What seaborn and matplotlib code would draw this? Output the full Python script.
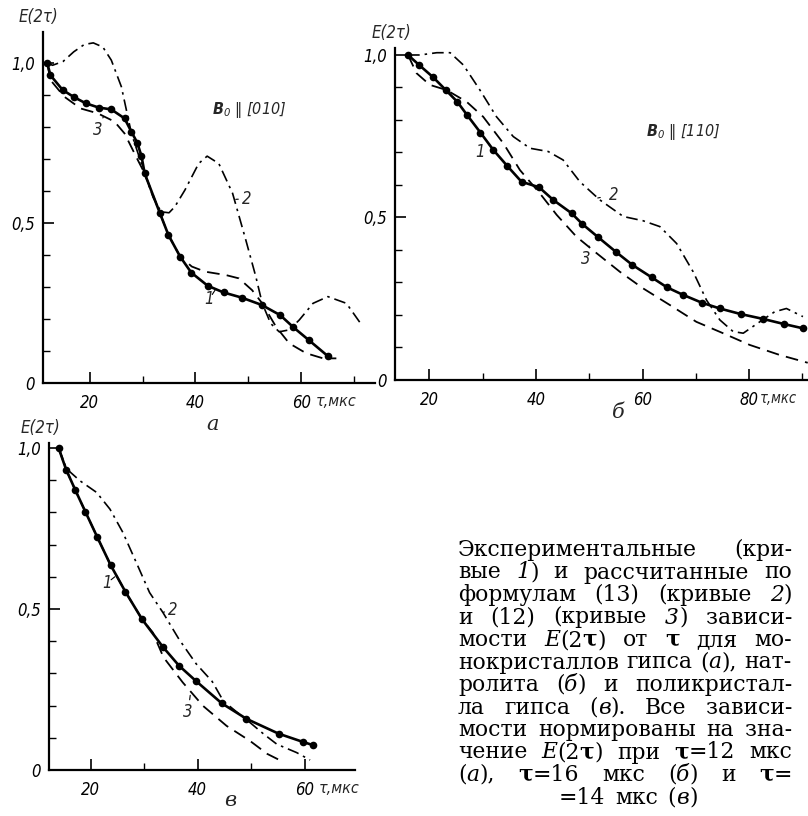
import re
import matplotlib
matplotlib.use("Agg")
import matplotlib.pyplot as plt
import seaborn as sns
from matplotlib.ticker import FixedLocator, FixedFormatter

# ---------------- data ----------------
# panel a: gypsum single crystal, B0 || [010]
a_t1 = [12, 12.6, 14.9, 17.1, 19.3, 21.7, 24.1, 26.6, 27.9, 29.0, 29.8, 30.4, 33.3,
        34.9, 37.1, 39.2, 42.3, 45.3, 48.7, 52.5, 56.0, 58.5, 61.4, 65.0]
a_e1 = [1.0, 0.962, 0.916, 0.893, 0.874, 0.861, 0.855, 0.827, 0.785, 0.751, 0.709,
        0.655, 0.530, 0.462, 0.395, 0.345, 0.304, 0.283, 0.267, 0.244, 0.212, 0.174,
        0.134, 0.084]
a_t2 = [12, 13.0, 15.0, 17.0, 19.0, 20.7, 22.5, 24.1, 26.0, 27.9, 30.4, 32.0, 33.5,
        35.0, 36.1, 38.0, 40.6, 42.2, 44.4, 47.0, 49.5, 51.4, 52.6, 54.2, 55.8, 57.7,
        59.6, 62.2, 65.0, 68.5, 71.4]
a_e2 = [1.0, 0.993, 1.005, 1.035, 1.058, 1.063, 1.05, 1.009, 0.926, 0.78, 0.655,
        0.58, 0.535, 0.532, 0.551, 0.603, 0.686, 0.709, 0.686, 0.593, 0.447, 0.332,
        0.249, 0.186, 0.16, 0.166, 0.197, 0.249, 0.27, 0.249, 0.181]
a_t3 = [12, 12.6, 15.2, 18.3, 21.5, 24.7, 26.6, 29.1, 30.4, 33.3, 34.9, 37.1, 39.3,
        41.8, 45.7, 48.2, 50.7, 52.6, 55.2, 57.7, 60.9, 64.1, 66.6]
a_e3 = [1.0, 0.947, 0.895, 0.858, 0.843, 0.817, 0.78, 0.697, 0.655, 0.53, 0.462,
        0.395, 0.364, 0.348, 0.3375, 0.327, 0.29, 0.249, 0.176, 0.124, 0.093, 0.077,
        0.077]

# panel б: natrolite, B0 || [110]
b_t1 = [16, 18.1, 20.75, 23.1, 25.25, 27.1, 29.6, 32.0, 34.6, 37.3, 40.6, 43.25, 46.7,
        48.7, 51.7, 55.1, 58.1, 61.7, 64.6, 67.6, 71.1, 74.5, 78.4, 82.6, 86.6, 90.1]
b_e1 = [1.0, 0.969, 0.931, 0.892, 0.856, 0.815, 0.761, 0.708, 0.659, 0.61, 0.593,
        0.554, 0.513, 0.48, 0.439, 0.393, 0.354, 0.316, 0.285, 0.262, 0.238, 0.22,
        0.203, 0.188, 0.172, 0.159]
b_t2 = [16, 18.25, 21.4, 23.9, 26.4, 29.5, 32.6, 35.75, 38.9, 42.3, 45.1, 48.25, 52.0,
        56.4, 60.1, 63.25, 66.4, 69.5, 72.0, 74.5, 77.0, 78.9, 82.0, 84.8, 87.0, 90.1]
b_e2 = [1.0, 1.0, 1.007, 1.007, 0.969, 0.892, 0.81, 0.749, 0.713, 0.703, 0.677, 0.61,
        0.554, 0.503, 0.49, 0.472, 0.42, 0.333, 0.246, 0.185, 0.149, 0.144, 0.179,
        0.21, 0.22, 0.195]
b_t3 = [16, 17.6, 20.1, 23.25, 27.0, 30.1, 33.9, 37.0, 40.75, 43.9, 47.6, 51.4, 55.75,
        60.1, 65.1, 70.1, 75.1, 80.1, 85.75, 91.0]
b_e3 = [1.0, 0.944, 0.908, 0.892, 0.856, 0.81, 0.728, 0.646, 0.574, 0.508, 0.441,
        0.39, 0.333, 0.282, 0.231, 0.179, 0.144, 0.108, 0.077, 0.053]

# panel в: gypsum polycrystal
c_t1 = [14.0, 15.4, 17.1, 19.0, 21.2, 23.7, 26.5, 29.6, 33.45, 36.5, 39.7, 44.5, 49.1,
        55.1, 59.7, 61.6]
c_e1 = [1.0, 0.933, 0.870, 0.802, 0.724, 0.637, 0.553, 0.468, 0.383, 0.324, 0.276,
        0.207, 0.159, 0.113, 0.087, 0.077]
c_t2 = [14.0, 15.5, 18.0, 21.1, 23.6, 26.0, 28.5, 31.0, 33.5, 36.5, 39.7, 42.7, 44.8,
        47.3, 49.8, 52.3, 54.8, 58.5, 61.0]
c_e2 = [1.0, 0.935, 0.898, 0.862, 0.81, 0.738, 0.645, 0.551, 0.489, 0.406, 0.33,
        0.275, 0.214, 0.18, 0.147, 0.112, 0.08, 0.054, 0.031]
c_t3 = [14.0, 15.4, 17.1, 19.0, 21.2, 23.7, 26.5, 29.6, 31.6, 33.6, 37.2, 41.0, 45.4,
        49.8, 53.0, 56.0]
c_e3 = [1.0, 0.933, 0.870, 0.802, 0.724, 0.637, 0.553, 0.468, 0.427, 0.35, 0.272,
        0.199, 0.137, 0.09, 0.05, 0.025]

y_ticks = [0, 0.5, 1.0]
y_ticklabels = ["0", "0,5", "1,0"]
ac_xticks = [20, 40, 60]
ac_xticklabels = ["20", "40", "60"]
b_xticks = [20, 40, 60, 80]
b_xticklabels = ["20", "40", "60", "80"]
y_label = "E(2τ)"
x_unit = "τ,мкс"
panel_letters = ["а", "б", "в"]
field_a = r"$\mathbf{B}_{0}$ ‖ [010]"
field_b = r"$\mathbf{B}_{0}$ ‖ [110]"

caption_lines = [
    "Экспериментальные (кри-",
    "вые *1*) и рассчитанные по",
    "формулам (13) (кривые *2*)",
    "и (12) (кривые *3*) зависи-",
    "мости *E*(2#τ#) от #τ# для мо-",
    "нокристаллов гипса (*а*), нат-",
    "ролита (*б*) и поликристал-",
    "ла гипса (*в*). Все зависи-",
    "мости нормированы на зна-",
    "чение *E*(2#τ#) при #τ#=12 мкс",
    "(*а*), #τ#=16 мкс (*б*) и #τ#=",
    "=14 мкс (*в*)",
]

# ---------------- style ----------------
sns.set_theme(style="white")
plt.rcParams["font.family"] = ["Liberation Sans Narrow", "DejaVu Sans"]
plt.rcParams["font.style"] = "italic"
plt.rcParams["font.stretch"] = "condensed"
plt.rcParams["mathtext.fontset"] = "custom"
plt.rcParams["mathtext.bf"] = "DejaVu Sans:italic:bold"
plt.rcParams["mathtext.it"] = "DejaVu Sans:italic"
plt.rcParams["mathtext.rm"] = "DejaVu Sans:italic"

W, H = 808, 816
fig = plt.figure(figsize=(W / 100, H / 100), dpi=100)
fig.patch.set_facecolor("white")
TS = 12


def px_rect(left, top, right, bottom):
    return [left / W, 1 - bottom / H, (right - left) / W, (bottom - top) / H]


def panel(rect, xlim, ylim, t1, e1, t2, e2, t3, e3, xt, xtl, unit_dx, unit_fs):
    ax = fig.add_axes(rect)
    ax.set_facecolor("white")
    sns.lineplot(x=t3, y=e3, ax=ax, color="black", lw=1.3,
                 linestyle=(0, (7, 4)), sort=False)
    sns.lineplot(x=t2, y=e2, ax=ax, color="black", lw=1.2,
                 linestyle=(0, (7, 3, 1.5, 3)), sort=False)
    sns.lineplot(x=t1, y=e1, ax=ax, color="black", lw=1.9, marker="o",
                 markersize=5.5, markeredgewidth=0, sort=False)
    ax.set_xlim(*xlim)
    ax.set_ylim(*ylim)
    ax.set_xlabel("")
    ax.set_ylabel("")
    for s in ["top", "right"]:
        ax.spines[s].set_visible(False)
    for s in ["left", "bottom"]:
        ax.spines[s].set_color("black")
        ax.spines[s].set_linewidth(1.6)
    ax.yaxis.set_major_locator(FixedLocator(y_ticks))
    ax.yaxis.set_major_formatter(FixedFormatter(y_ticklabels))
    ax.yaxis.set_minor_locator(FixedLocator([0.1, 0.2, 0.3, 0.4, 0.6, 0.7, 0.8, 0.9]))
    ax.xaxis.set_major_locator(FixedLocator(xt))
    ax.xaxis.set_major_formatter(FixedFormatter(xtl))
    ax.xaxis.set_minor_locator(FixedLocator([v + 10 for v in xt]))
    ax.tick_params(axis="both", which="both", direction="in", color="black",
                   left=True, bottom=True, labelsize=TS, labelcolor="black")
    ax.tick_params(axis="y", which="major", length=8, width=1.2, pad=6)
    ax.tick_params(axis="y", which="minor", length=5, width=1.0)
    ax.tick_params(axis="x", which="major", length=8, width=1.2, pad=8)
    ax.tick_params(axis="x", which="minor", length=5, width=1.0)
    ax.annotate(x_unit, xy=(xt[-1], 0), xycoords=("data", "axes fraction"),
                xytext=(unit_dx, -11), textcoords="offset pixels",
                ha="left", va="top", fontsize=unit_fs)
    return ax


def label(ax, txt, xy, xytext):
    ax.annotate(txt, xy=xy, xytext=xytext, fontsize=TS, ha="center", va="center",
                arrowprops=dict(arrowstyle="-", lw=0.8, color="black",
                                shrinkA=4, shrinkB=0))


# panel a
ax_a = panel(px_rect(43, 32, 375, 383), (11.2, 73.9), (0, 1.097),
             a_t1, a_e1, a_t2, a_e2, a_t3, a_e3, ac_xticks, ac_xticklabels, 14, 11.5)
label(ax_a, "3", (22.6, 0.832), (21.5, 0.79))
label(ax_a, "1", (43.8, 0.293), (42.6, 0.262))
label(ax_a, "2", (47.6, 0.574), (49.6, 0.576))
ax_a.text(50.1, 0.853, field_a, fontsize=11.5, ha="center", va="center")

# panel б
ax_b = panel(px_rect(395, 48, 808, 380), (13.56, 91.05), (0, 1.0215),
             b_t1, b_e1, b_t2, b_e2, b_t3, b_e3, b_xticks, b_xticklabels, 11, 10.5)
label(ax_b, "1", (31.3, 0.727), (29.6, 0.70))
label(ax_b, "2", (51.6, 0.56), (54.6, 0.57))
label(ax_b, "3", (50.0, 0.412), (49.4, 0.372))
ax_b.text(67.6, 0.763, field_b, fontsize=11.5, ha="center", va="center")

# panel в
ax_c = panel(px_rect(49, 443, 355, 770), (12.2, 69.4), (0, 1.0155),
             c_t1, c_e1, c_t2, c_e2, c_t3, c_e3, ac_xticks, ac_xticklabels, 14, 11.5)
label(ax_c, "1", (24.5, 0.600), (23.0, 0.58))
label(ax_c, "2", (33.6, 0.49), (35.3, 0.497))
label(ax_c, "3", (38.6, 0.232), (38.2, 0.18))

# y-axis titles
for (cx, cy) in [(38, 17), (391, 33), (40, 428)]:
    fig.text(cx / W, 1 - cy / H, y_label, fontsize=TS, ha="center", va="center")

# panel letters
for letter, (cx, cy) in zip(panel_letters, [(213, 424), (618, 412), (230, 800)]):
    fig.text(cx / W, 1 - cy / H, letter, fontsize=15, ha="center", va="center",
             family="DejaVu Serif", style="italic", stretch="normal")

# ---------------- caption (justified) ----------------
renderer = fig.canvas.get_renderer()
cap_family = "DejaVu Serif"
cap_left, cap_right = 458, 792
cap_y0, cap_dy = 556, 22.5
cap_last_center = 628


def parse(word):
    segs = []
    for p in re.split(r"(\*[^*]+\*|#[^#]+#)", word):
        if not p:
            continue
        if p.startswith("*"):
            segs.append((p[1:-1], dict(style="italic", weight="normal")))
        elif p.startswith("#"):
            segs.append((p[1:-1], dict(style="normal", weight="bold")))
        else:
            segs.append((p, dict(style="normal", weight="normal")))
    return segs


def measure_line(line, fs):
    tot = 0
    for w in line.split(" "):
        for txt, kw in parse(w):
            t = fig.text(0, 0, txt, fontsize=fs, family=cap_family,
                         stretch="normal", **kw)
            tot += t.get_window_extent(renderer).width
            t.remove()
    return tot, len(line.split(" "))


fs = 12.0
sp = fig.text(0, 0, "a a", fontsize=fs, family=cap_family, style="normal")
w_aa = sp.get_window_extent(renderer).width
sp.remove()
sp = fig.text(0, 0, "aa", fontsize=fs, family=cap_family, style="normal")
space_w = w_aa - sp.get_window_extent(renderer).width
sp.remove()
need = 0
for ln in caption_lines[:-1]:
    tot, n = measure_line(ln, fs)
    need = max(need, tot + space_w * (n - 1))
fs = fs * (cap_right - cap_left) * 0.985 / need
space_w = space_w * fs / 12.0

for i, line in enumerate(caption_lines):
    y = cap_y0 + i * cap_dy
    words = line.split(" ")
    objs, widths = [], []
    for w in words:
        wo, ww = [], 0
        for txt, kw in parse(w):
            t = fig.text(0, 1 - y / H, txt, fontsize=fs, family=cap_family,
                         stretch="normal", ha="left", va="baseline",
                         color="black", **kw)
            wd = t.get_window_extent(renderer).width
            wo.append((t, wd))
            ww += wd
        objs.append(wo)
        widths.append(ww)
    total = sum(widths)
    n = len(widths)
    if i < len(caption_lines) - 1 and n > 1:
        gap = (cap_right - cap_left - total) / (n - 1)
        x = cap_left
    else:
        gap = space_w * 1.6
        x = cap_last_center - (total + gap * (n - 1)) / 2
    for wo, ww in zip(objs, widths):
        xx = x
        for t, wd in wo:
            t.set_x(xx / W)
            xx += wd
        x += ww + gap

fig.savefig("out.png", dpi=100, facecolor="white")
